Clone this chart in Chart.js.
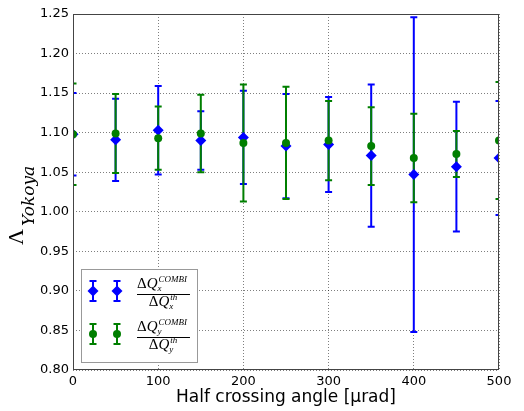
<!DOCTYPE html>
<html>
<head>
<meta charset="utf-8">
<script src="https://cdn.jsdelivr.net/npm/chart.js@4.4.0/dist/chart.umd.min.js"></script>
<style>
  body { margin: 0; background: #fff; }
  #wrap { width: 524px; height: 411px; position: relative; }
</style>
</head>
<body>
<div id="wrap"><canvas id="mycanvas"></canvas></div>
<script>
// half crossing angle [urad]
var angles = [0, 50, 100, 150, 200, 250, 300, 350, 400, 450, 500];

// dQx COMBI / dQx th
var lambdaX = [1.098, 1.091, 1.103, 1.090, 1.094, 1.083, 1.085, 1.071, 1.047, 1.057, 1.068];
var errX    = [0.052, 0.052, 0.056, 0.037, 0.059, 0.066, 0.060, 0.090, 0.199, 0.082, 0.072];

// dQy COMBI / dQy th
var lambdaY = [1.098, 1.099, 1.093, 1.099, 1.087, 1.087, 1.090, 1.083, 1.068, 1.073, 1.090];
var errY    = [0.064, 0.050, 0.040, 0.049, 0.074, 0.071, 0.050, 0.049, 0.056, 0.029, 0.074];

var yTicks = [0.80, 0.85, 0.90, 0.95, 1.00, 1.05, 1.10, 1.15, 1.20, 1.25];
var xTicks = [0, 100, 200, 300, 400, 500];

var BLUE = "#0000ff";
var GREEN = "#007f00";

function toPoints(xs, ys) {
  var pts = [];
  for (var i = 0; i < xs.length; i++) pts.push({ x: xs[i], y: ys[i] });
  return pts;
}

// vertical error bars with caps, drawn under the markers
var errorBars = {
  id: "errorBars",
  beforeDatasetsDraw: function(chart) {
    var ctx = chart.ctx, ca = chart.chartArea;
    var xs = chart.scales.x, ys = chart.scales.y;
    ctx.save();
    ctx.beginPath();
    ctx.rect(ca.left, ca.top, ca.right - ca.left, ca.bottom - ca.top);
    ctx.clip();
    chart.data.datasets.forEach(function(ds) {
      ctx.strokeStyle = ds.borderColor;
      ctx.lineWidth = 2;
      for (var i = 0; i < ds.data.length; i++) {
        var p = ds.data[i], e = ds.errors[i];
        var px = xs.getPixelForValue(p.x);
        var top = ys.getPixelForValue(p.y + e);
        var bot = ys.getPixelForValue(p.y - e);
        ctx.beginPath();
        ctx.moveTo(px, top); ctx.lineTo(px, bot);
        ctx.moveTo(px - 3.5, top); ctx.lineTo(px + 3.5, top);
        ctx.moveTo(px - 3.5, bot); ctx.lineTo(px + 3.5, bot);
        ctx.stroke();
      }
    });
    ctx.restore();
  }
};

function marker(ctx, style, x, y, color) {
  ctx.fillStyle = color;
  ctx.beginPath();
  if (style === "rectRot") {
    ctx.moveTo(x, y - 5.5); ctx.lineTo(x + 5.5, y);
    ctx.lineTo(x, y + 5.5); ctx.lineTo(x - 5.5, y);
    ctx.closePath();
  } else {
    ctx.arc(x, y, 4, 0, Math.PI * 2);
  }
  ctx.fill();
}

// draws "ΔQ" with an italic Q, returns its width
function deltaQ(ctx, x, y) {
  ctx.font = "15px 'Liberation Serif'";
  ctx.fillText("Δ", x, y);
  var w = ctx.measureText("Δ").width;
  ctx.font = "italic 15px 'Liberation Serif'";
  ctx.fillText("Q", x + w, y);
  return w + ctx.measureText("Q").width;
}

function fraction(ctx, x0, lineY, sub) {
  // numerator: dQ_sub^COMBI
  ctx.fillStyle = "#000";
  ctx.textBaseline = "alphabetic";
  ctx.textAlign = "left";
  var nb = lineY - 6;
  var w = deltaQ(ctx, x0, nb);
  ctx.font = "italic 9px 'Liberation Serif'";
  ctx.fillText("COMBI", x0 + w + 1, nb - 6);
  ctx.fillText(sub, x0 + w, nb + 3);
  var numW = w + 1 + ctx.measureText("COMBI").width;

  ctx.strokeStyle = "#000";
  ctx.lineWidth = 1;
  ctx.beginPath();
  ctx.moveTo(x0, lineY + 0.5); ctx.lineTo(x0 + numW + 3, lineY + 0.5);
  ctx.stroke();

  // denominator: dQ_sub^th
  var denW = w + 9;
  var dx = x0 + (numW + 3 - denW) / 2;
  var db = lineY + 12;
  deltaQ(ctx, dx, db);
  ctx.font = "italic 9px 'Liberation Serif'";
  ctx.fillText("th", dx + w + 1, db - 6);
  ctx.fillText(sub, dx + w, db + 3);
}

// frame, legend box and the y axis label
var decorations = {
  id: "decorations",
  afterDraw: function(chart) {
    var ctx = chart.ctx, ca = chart.chartArea;
    ctx.save();
    ctx.strokeStyle = "#444";
    ctx.lineWidth = 1;
    ctx.strokeRect(ca.left + 0.5, ca.top + 0.5, ca.right - ca.left - 1, ca.bottom - ca.top - 1);

    // legend
    var bx = ca.left + 8, bh = 93, by = ca.bottom - 8 - bh, bw = 116;
    ctx.fillStyle = "#fff";
    ctx.fillRect(bx, by, bw, bh);
    ctx.strokeStyle = "#999";
    ctx.strokeRect(bx + 0.5, by + 0.5, bw, bh);
    var rows = [
      { y: by + 22, color: BLUE, style: "rectRot", sub: "x" },
      { y: by + 65, color: GREEN, style: "circle", sub: "y" }
    ];
    rows.forEach(function(r) {
      [bx + 12, bx + 36].forEach(function(mx) {
        ctx.strokeStyle = r.color;
        ctx.lineWidth = 2;
        ctx.beginPath();
        ctx.moveTo(mx, r.y - 10); ctx.lineTo(mx, r.y + 10);
        ctx.moveTo(mx - 3.5, r.y - 10); ctx.lineTo(mx + 3.5, r.y - 10);
        ctx.moveTo(mx - 3.5, r.y + 10); ctx.lineTo(mx + 3.5, r.y + 10);
        ctx.stroke();
        marker(ctx, r.style, mx, r.y, r.color);
      });
      fraction(ctx, bx + 56, r.y + 3, r.sub);
    });

    // y label: Lambda_Yokoya, rotated
    ctx.translate(23, 245);
    ctx.rotate(-Math.PI / 2);
    ctx.fillStyle = "#000";
    ctx.textAlign = "left";
    ctx.textBaseline = "alphabetic";
    ctx.font = "22px 'Liberation Serif'";
    ctx.fillText("Λ", 0, 0);
    var lw = ctx.measureText("Λ").width;
    ctx.font = "italic 17px 'DejaVu Serif'";
    ctx.fillText("Yokoya", lw + 3, 11);
    ctx.restore();
  }
};

var chartdata = {
  datasets: [
    {
      label: "dQx",
      data: toPoints(angles, lambdaX),
      errors: errX,
      pointStyle: "rectRot",
      pointRadius: 5.5,
      pointHoverRadius: 5.5,
      backgroundColor: BLUE,
      borderColor: BLUE,
      pointBorderWidth: 0,
      clip: 0,
      order: 1
    },
    {
      label: "dQy",
      data: toPoints(angles, lambdaY),
      errors: errY,
      pointStyle: "circle",
      pointRadius: 4,
      pointHoverRadius: 4,
      backgroundColor: GREEN,
      borderColor: GREEN,
      pointBorderWidth: 0,
      clip: 0,
      order: 0
    }
  ]
};

var gridStyle = { color: "rgba(0,0,0,0.5)", lineWidth: 1, drawTicks: false, tickLength: 0 };

var ctx = document.getElementById("mycanvas");
var LineGraph = new Chart(ctx, {
  type: "scatter",
  data: chartdata,
  plugins: [errorBars, decorations],
  options: {
    responsive: true,
    maintainAspectRatio: false,
    animation: false,
    events: [],
    layout: { padding: { top: 14, right: 25, left: 0, bottom: 0 } },
    plugins: { legend: { display: false }, tooltip: { enabled: false } },
    scales: {
      x: {
        type: "linear",
        min: 0, max: 500,
        afterFit: function(s) { s.height = 41; },
        afterBuildTicks: function(s) { s.ticks = xTicks.map(function(v) { return { value: v }; }); },
        grid: gridStyle,
        border: { display: false, dash: [1, 2] },
        ticks: { color: "#000", padding: 4, font: { family: "'DejaVu Sans'", size: 13 }, maxRotation: 0 },
        title: {
          display: true,
          text: "Half crossing angle [μrad]",
          color: "#000",
          font: { family: "'DejaVu Sans'", size: 17 },
          padding: { top: 0, bottom: 3 }
        }
      },
      y: {
        type: "linear",
        min: 0.8, max: 1.25,
        afterFit: function(s) { s.width = 73; },
        afterBuildTicks: function(s) { s.ticks = yTicks.map(function(v) { return { value: v }; }); },
        grid: gridStyle,
        border: { display: false, dash: [1, 2] },
        ticks: {
          color: "#000", padding: 4,
          font: { family: "'DejaVu Sans'", size: 13 },
          callback: function(v) { return Number(v).toFixed(2); }
        }
      }
    }
  }
});
</script>
</body>
</html>
